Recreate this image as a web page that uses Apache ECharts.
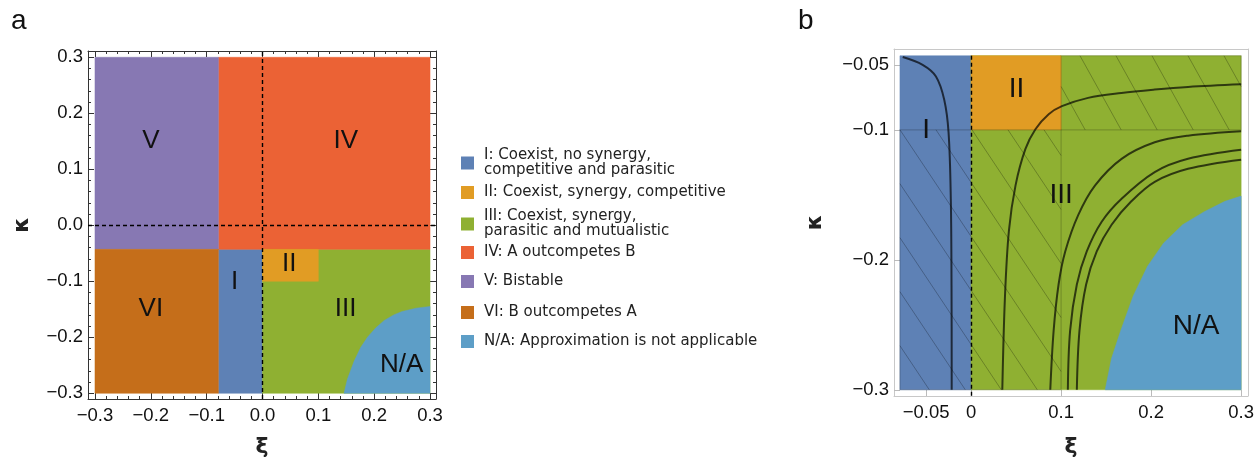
<!DOCTYPE html>
<html><head><meta charset="utf-8">
<script src="https://cdn.jsdelivr.net/npm/echarts@6/dist/echarts.min.js"></script>
<style>html,body{margin:0;padding:0;background:#fff}#c{width:1257px;height:463px}</style>
</head><body><div id="c"></div>
<script>
// ---------------- DATA ----------------
// tick values
const xiTicksA = [-0.3, -0.2, -0.1, 0, 0.1, 0.2, 0.3];
const kappaTicksA = [-0.3, -0.2, -0.1, 0, 0.1, 0.2, 0.3];
const xiTicksB = [-0.05, 0, 0.1, 0.2, 0.3];
const xiTickLabelsB = ['−0.05', '0', '0.1', '0.2', '0.3'];
const kappaTicksB = [-0.05, -0.1, -0.2, -0.3];
const kappaTickLabelsB = ['−0.05', '−0.1', '−0.2', '−0.3'];

// legend / region names
const regionNames = [
  'I: Coexist, no synergy,\ncompetitive and parasitic',
  'II: Coexist, synergy, competitive',
  'III: Coexist, synergy,\nparasitic and mutualistic',
  'IV: A outcompetes B',
  'V: Bistable',
  'VI: B outcompetes A',
  'N/A: Approximation is not applicable'
];

// panel a: region polygons (xi, kappa)
const regionA_I   = [[-0.079, -0.3], [0, -0.3], [0, -0.043], [-0.079, -0.043]];
const regionA_II  = [[0, -0.1], [0.1, -0.1], [0.1, -0.043], [0, -0.043]];
const regionA_III = [[0, -0.3], [0.3, -0.3], [0.3, -0.043], [0, -0.043]];
const regionA_IV  = [[-0.079, -0.043], [0.3, -0.043], [0.3, 0.3], [-0.079, 0.3]];
const regionA_V   = [[-0.3, -0.043], [-0.079, -0.043], [-0.079, 0.3], [-0.3, 0.3]];
const regionA_VI  = [[-0.3, -0.3], [-0.079, -0.3], [-0.079, -0.043], [-0.3, -0.043]];
const naBoundaryA = [[0.146, -0.3], [0.152, -0.275], [0.164, -0.243], [0.176, -0.218], [0.188, -0.2], [0.203, -0.183], [0.218, -0.17], [0.235, -0.16], [0.25, -0.154], [0.275, -0.148], [0.3, -0.145]];
const naCornerA = [0.3, -0.3];

// panel b
const regionB_I   = [[-0.079, -0.3], [0, -0.3], [0, -0.043], [-0.079, -0.043]];
const regionB_II  = [[0, -0.1], [0.1, -0.1], [0.1, -0.043], [0, -0.043]];
const regionB_III = [[0, -0.3], [0.3, -0.3], [0.3, -0.043], [0, -0.043]];
const naBoundaryB = [[0.149, -0.3], [0.156, -0.276], [0.166, -0.255], [0.18, -0.228], [0.196, -0.205], [0.214, -0.187], [0.235, -0.173], [0.259, -0.163], [0.282, -0.155], [0.3, -0.151]];
const naCornerB = [0.3, -0.3];
const hatchB1 = [[-0.079, -0.3], [0.1, -0.1]];
const hatchB2 = [[0.1, -0.1], [0.3, -0.043]];

const curveB1 = [[-0.0759, -0.044], [-0.0538, -0.05], [-0.039, -0.0589], [-0.0298, -0.0768], [-0.025, -0.102], [-0.0225, -0.153], [-0.0217, -0.22], [-0.0215, -0.3]];
const curveB2 = [[0.0347, -0.3], [0.0376, -0.2295], [0.042, -0.178], [0.0494, -0.1427], [0.0604, -0.1147], [0.0715, -0.0995], [0.0862, -0.088], [0.1009, -0.0818], [0.13, -0.0754], [0.167, -0.0716], [0.204, -0.069], [0.241, -0.067], [0.3, -0.065]];
const curveB3 = [[0.088, -0.3], [0.0917, -0.2547], [0.0972, -0.219], [0.1046, -0.1936], [0.119, -0.1656], [0.1378, -0.1427], [0.1672, -0.1223], [0.204, -0.1096], [0.241, -0.1045], [0.3, -0.1011]];
const curveB4 = [[0.1075, -0.3], [0.11, -0.2547], [0.1175, -0.219], [0.1285, -0.1936], [0.1451, -0.1707], [0.1672, -0.153], [0.204, -0.1325], [0.241, -0.1223], [0.3, -0.1154]];
const curveB5 = [[0.1175, -0.3], [0.1204, -0.2547], [0.1278, -0.219], [0.1396, -0.1936], [0.1561, -0.173], [0.178, -0.155], [0.204, -0.14], [0.241, -0.13], [0.3, -0.123]];

// region labels (text, xi, kappa)
const labelTextA = ['V', 'IV', 'VI', 'I', 'II', 'III', 'N/A'];
const labelPosA  = [[-0.2, 0.15], [0.149, 0.15], [-0.2, -0.15], [-0.05, -0.101], [0.048, -0.069], [0.149, -0.149], [0.249, -0.249]];
const labelTextB = ['I', 'II', 'III', 'N/A'];
const labelPosB  = [[-0.05, -0.1], [0.0505, -0.069], [0.1, -0.1507], [0.25, -0.251]];

// ---------------- STYLE / LAYOUT ----------------
const colors = ['#5E81B5', '#E19C24', '#8FB032', '#EB6235', '#8778B3', '#C56E1A', '#5D9EC7'];
const FONT = 'Liberation Sans, Arial, sans-serif';
const X_A = {min: -0.3125, max: 0.3107};
const Y_A = {min: -0.3102, max: 0.3112};
const X_B = {min: -0.0856, max: 0.3074};
const Y_B = {min: -0.3048, max: -0.0378};
const legendTops = [148, 185, 209, 245, 274, 305, 334];

const minorA = [];
for (let i = -15; i <= 15; i++) if (i % 5 !== 0) minorA.push(+(i * 0.02).toFixed(2));

function fmtA(v) { return (v < -1e-9 ? '−' : '') + Math.abs(v).toFixed(1); }
function lookup(ticks, labels) { return v => { const i = ticks.findIndex(t => Math.abs(t - v) < 1e-9); return i >= 0 ? labels[i] : ''; }; }

function axis(gridIndex, position, range, extra) {
  return Object.assign({
    type: 'value', gridIndex, position, min: range.min, max: range.max,
    splitLine: {show: false}, axisLine: {show: false, onZero: false},
    axisTick: {show: false}, axisLabel: {show: false}
  }, extra);
}
const frameA = {show: true, onZero: false, lineStyle: {color: '#333', width: 1}};
const frameB = {show: true, onZero: false, lineStyle: {color: '#c8c8c8', width: 1}};
const majTickA = vals => ({show: true, inside: true, length: 6, customValues: vals, lineStyle: {color: '#333', width: 1}});
const minTickA = vals => ({show: true, inside: true, length: 3, customValues: vals, lineStyle: {color: '#333', width: 1}});
const tickB = vals => ({show: true, inside: true, length: 6, customValues: vals, lineStyle: {color: '#bbb', width: 1}});
const lblStyle = {fontSize: 18.5, color: '#111', fontFamily: FONT};
const nameStyle = {fontSize: 22, fontWeight: 'bold', color: '#222', fontFamily: 'DejaVu Sans'};

const xAxes = [
  axis(0, 'bottom', X_A, {axisLine: frameA, axisTick: majTickA(xiTicksA), axisLabel: Object.assign({show: true, customValues: xiTicksA, formatter: fmtA, margin: 7}, lblStyle),
    name: 'ξ', nameLocation: 'middle', nameGap: 37, nameTextStyle: nameStyle}),
  axis(0, 'bottom', X_A, {axisTick: minTickA(minorA)}),
  axis(0, 'top', X_A, {axisLine: frameA, axisTick: majTickA(xiTicksA)}),
  axis(0, 'top', X_A, {axisTick: minTickA(minorA)}),
  axis(1, 'bottom', X_B, {axisLine: frameB, axisTick: tickB(xiTicksB), axisLabel: Object.assign({show: true, customValues: xiTicksB, formatter: lookup(xiTicksB, xiTickLabelsB), margin: 7}, lblStyle),
    name: 'ξ', nameLocation: 'middle', nameGap: 40, nameTextStyle: nameStyle}),
  axis(1, 'top', X_B, {axisLine: frameB})
];
const yAxes = [
  axis(0, 'left', Y_A, {axisLine: frameA, axisTick: majTickA(kappaTicksA), axisLabel: Object.assign({show: true, customValues: kappaTicksA, formatter: fmtA, margin: 5}, lblStyle),
    name: 'κ', nameLocation: 'middle', nameGap: 55, nameRotate: 90, nameTextStyle: nameStyle}),
  axis(0, 'left', Y_A, {axisTick: minTickA(minorA)}),
  axis(0, 'right', Y_A, {axisLine: frameA, axisTick: majTickA(kappaTicksA)}),
  axis(0, 'right', Y_A, {axisTick: minTickA(minorA)}),
  axis(1, 'left', Y_B, {axisLine: frameB, axisTick: tickB(kappaTicksB), axisLabel: Object.assign({show: true, customValues: kappaTicksB, formatter: lookup(kappaTicksB, kappaTickLabelsB), margin: 5}, lblStyle),
    name: 'κ', nameLocation: 'middle', nameGap: 68, nameRotate: 90, nameTextStyle: nameStyle}),
  axis(1, 'right', Y_B, {axisLine: frameB})
];

function polySeries(name, pts, color, ax, z) {
  return {
    type: 'custom', name, xAxisIndex: ax, yAxisIndex: ax, data: pts, z, silent: true,
    itemStyle: {color}, clip: true, animation: false,
    renderItem: (params, api) => {
      if (params.dataIndex !== 0) return null;
      return {type: 'polygon', shape: {points: pts.map(p => api.coord(p))}, style: {fill: color, stroke: color, lineWidth: 0.5}};
    }
  };
}
function labelSeries(texts, pos, ax, size) {
  return {
    type: 'custom', xAxisIndex: ax, yAxisIndex: ax, data: pos, z: 8, silent: true, animation: false,
    renderItem: (params, api) => {
      const p = api.coord(pos[params.dataIndex]);
      return {type: 'text', x: p[0], y: p[1], style: {text: texts[params.dataIndex], fontSize: size, fontFamily: FONT, fill: '#111', align: 'center', verticalAlign: 'middle'}};
    }
  };
}
function hatchSeries(rect, ax, slope) {
  return {
    type: 'custom', xAxisIndex: ax, yAxisIndex: ax, data: rect, z: 5, silent: true, animation: false,
    renderItem: (params, api) => {
      if (params.dataIndex !== 0) return null;
      const a = api.coord(rect[0]), b = api.coord(rect[1]);
      const L = Math.min(a[0], b[0]), R = Math.max(a[0], b[0]);
      const T = Math.min(a[1], b[1]), B = Math.max(a[1], b[1]);
      const s = slope, sp = 36, h = B - T;
      const children = [];
      const k0 = Math.floor((L - h / s) / sp), k1 = Math.ceil(R / sp);
      for (let k = k0; k <= k1; k++) {
        const ax0 = k * sp;
        let x1 = ax0, y1 = T, x2 = ax0 + h / s, y2 = B;
        if (x2 < L || x1 > R) continue;
        if (x1 < L) { y1 = T + (L - x1) * s; x1 = L; }
        if (x2 > R) { y2 = T + (R - ax0) * s; x2 = R; }
        children.push({type: 'line', shape: {x1, y1, x2, y2}, style: {stroke: 'rgba(0,0,0,0.33)', lineWidth: 0.8}});
      }
      children.push({type: 'rect', shape: {x: L, y: T, width: R - L, height: h}, style: {fill: 'none', stroke: 'rgba(0,0,0,0.18)', lineWidth: 1.2}});
      return {type: 'group', children};
    }
  };
}
function curveSeries(pts) {
  return {type: 'line', xAxisIndex: 4, yAxisIndex: 4, data: pts, showSymbol: false, smooth: 0.35, z: 6, silent: true, animation: false,
    lineStyle: {color: 'rgba(0,0,0,0.68)', width: 2}};
}

const series = [
  polySeries(regionNames[0], regionA_I, colors[0], 0, 1),
  polySeries(regionNames[1], regionA_II, colors[1], 0, 2),
  polySeries(regionNames[2], regionA_III, colors[2], 0, 1),
  polySeries(regionNames[3], regionA_IV, colors[3], 0, 1),
  polySeries(regionNames[4], regionA_V, colors[4], 0, 1),
  polySeries(regionNames[5], regionA_VI, colors[5], 0, 1),
  polySeries(regionNames[6], naBoundaryA.concat([naCornerA]), colors[6], 0, 2),
  labelSeries(labelTextA, labelPosA, 0, 26),
  {type: 'line', xAxisIndex: 0, yAxisIndex: 0, data: [], silent: true,
    markLine: {silent: true, symbol: 'none', label: {show: false}, animation: false, lineStyle: {color: '#000', type: [4, 3], width: 1.4},
      data: [{xAxis: 0}, {yAxis: 0}]}},
  // panel b
  polySeries('bI', regionB_I, colors[0], 4, 1),
  polySeries('bIII', regionB_III, colors[2], 4, 1),
  polySeries('bII', regionB_II, colors[1], 4, 2),
  polySeries('bNA', naBoundaryB.concat([naCornerB]), colors[6], 4, 2),
  hatchSeries(hatchB1, 4, 1.5),
  hatchSeries(hatchB2, 4, 1.8),
  curveSeries(curveB1), curveSeries(curveB2), curveSeries(curveB3), curveSeries(curveB4), curveSeries(curveB5),
  labelSeries(labelTextB, labelPosB, 4, 28),
  {type: 'line', xAxisIndex: 4, yAxisIndex: 4, data: [], silent: true,
    markLine: {silent: true, symbol: 'none', label: {show: false}, animation: false, lineStyle: {color: '#000', type: [4, 3], width: 1.4},
      data: [[{coord: [0, -0.043]}, {coord: [0, Y_B.min]}]]}}
];

const legends = regionNames.map((n, i) => ({
  data: [n], left: 461, top: legendTops[i], orient: 'vertical', icon: 'rect', itemWidth: 13, itemHeight: 13,
  selectedMode: false, padding: 0,
  textStyle: {fontSize: 15, lineHeight: 15, color: '#222', fontFamily: 'DejaVu Sans', padding: [0, 0, 0, 5]}
}));

const chart = echarts.init(document.getElementById('c'));
chart.setOption({
  animation: false,
  backgroundColor: '#fff',
  title: [
    {text: 'a', left: 6, top: 2, textStyle: {fontSize: 28, fontWeight: 'normal', color: '#111', fontFamily: FONT}},
    {text: 'b', left: 793, top: 2, textStyle: {fontSize: 28, fontWeight: 'normal', color: '#111', fontFamily: FONT}}
  ],
  grid: [
    {left: 88, top: 51, width: 348, height: 348},
    {left: 894, top: 49, width: 356, height: 350}
  ],
  legend: legends,
  xAxis: xAxes,
  yAxis: yAxes,
  series
});
</script></body></html>
